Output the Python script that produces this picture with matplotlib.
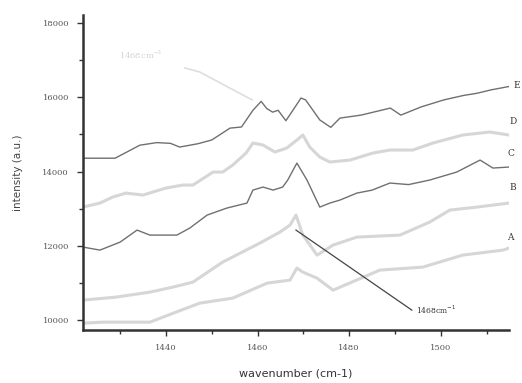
import matplotlib
matplotlib.use("Agg")
import matplotlib.pyplot as plt
from matplotlib.ticker import MultipleLocator

# spectra (wavenumber, intensity)
wn_E = [1421.9, 1428.9, 1432, 1434.3, 1438, 1441, 1443, 1447, 1450, 1454, 1456.5, 1459, 1460.8,
        1462, 1463.3, 1464.5, 1466.2, 1468, 1469.5, 1470.5, 1473.6, 1476, 1478, 1482.6, 1487,
        1489, 1491.3, 1495.7, 1500.7, 1505, 1508, 1511, 1514.9]
int_E = [14360, 14360, 14560, 14710, 14780, 14760, 14660, 14750, 14850, 15170, 15200, 15650, 15890,
         15700, 15600, 15650, 15370, 15700, 15980, 15930, 15390, 15190, 15440, 15520, 15650,
         15710, 15520, 15740, 15930, 16050, 16110, 16200, 16290]

wn_D = [1421.9, 1425.6, 1428.4, 1431.3, 1435.0, 1440.0, 1443.7, 1445.9, 1450.3, 1452.4, 1454.6,
        1457.5, 1459.0, 1461.2, 1463.8, 1466.4, 1468.6, 1469.9, 1471.4, 1473.6, 1475.8, 1480.2,
        1485.2, 1488.9, 1493.9, 1498.3, 1504.8, 1510.7, 1514.9]
int_D = [13044, 13152, 13314, 13421, 13368, 13556, 13637, 13637, 13987, 13987, 14176,
         14499, 14768, 14715, 14526, 14634, 14849, 14984, 14661, 14391, 14257, 14310,
         14499, 14580, 14580, 14768, 14984, 15065, 14984]

wn_C = [1421.9, 1429.1, 1436.5, 1441.5, 1445.9, 1452.4, 1460.5, 1464.9, 1467.1, 1468.4, 1469.9,
        1473.0, 1476.5, 1481.7, 1491.1, 1497.6, 1502.0, 1507.9, 1514.9]
int_C = [10539, 10620, 10754, 10889, 11024, 11563, 12074, 12371, 12559, 12829, 12290,
         11751, 12021, 12236, 12290, 12640, 12963, 13044, 13152]

wn_B = [1421.9, 1425.6, 1430.0, 1433.7, 1436.5, 1442.4, 1445.2, 1449.0, 1453.3, 1457.7, 1459.0,
        1461.2, 1463.4, 1465.5, 1466.6, 1468.6, 1470.8, 1473.6, 1475.8, 1478.0, 1481.7, 1485.0,
        1488.9, 1493.0, 1497.6, 1503.5, 1508.6, 1511.4, 1514.9]
int_B = [11967, 11886, 12101, 12425, 12290, 12290, 12478, 12829, 13017, 13152, 13502,
         13583, 13502, 13583, 13772, 14229, 13772, 13044, 13152, 13233, 13421, 13500,
         13691, 13650, 13772, 13987, 14310, 14095, 14122]

wn_A = [1421.9, 1426.2, 1436.5, 1442.2, 1447.4, 1454.6, 1462.1, 1467.1, 1468.6, 1469.9, 1473.0,
        1476.5, 1486.7, 1496.1, 1504.8, 1513.6, 1514.9]
int_A = [9919, 9946, 9946, 10216, 10458, 10593, 10997, 11078, 11401, 11293, 11131,
         10808, 11347, 11428, 11751, 11886, 11940]

labels = ['E', 'D', 'C', 'B', 'A']
label_pos = [(1516.5, 16330), (1515.8, 15340), (1515.3, 14500), (1515.8, 13560), (1515.2, 12220)]

fig = plt.figure(figsize=(5.22, 3.83), dpi=100)
ax = fig.add_axes([0.159, 0.138, 0.816, 0.823])

light = '#d6d6d6'
dark = '#707070'
ax.plot(wn_A, int_A, color=light, lw=2.2)
ax.plot(wn_C, int_C, color=light, lw=2.2)
ax.plot(wn_D, int_D, color=light, lw=2.2)
ax.plot(wn_B, int_B, color=dark, lw=1.0)
ax.plot(wn_E, int_E, color=dark, lw=1.0)

for lab, (x, y) in zip(labels, label_pos):
    ax.text(x, y, lab, fontsize=6.5, color='#333333', family='DejaVu Serif',
            ha='center', va='center', clip_on=False)

# peak annotation
ax.plot([1468.4, 1493.7], [12425, 10270], color='#444444', lw=0.9)
ax.text(1494.5, 10290, '1468cm$^{-1}$', fontsize=5.5, color='#333333',
        family='DejaVu Serif', va='center', ha='left')

# faded label left over in the scan
ax.plot([1444.1, 1447.4, 1458.8], [16790, 16680, 15930], color='#dedede', lw=1.2)
ax.text(1434.5, 17140, '1468cm$^{-1}$', fontsize=6, color='#d4d4d4',
        family='DejaVu Serif', va='center', ha='center')

ax.set_xlim(1421.9, 1514.9)
ax.set_ylim(9731, 18217)
ax.xaxis.set_major_locator(MultipleLocator(20))
ax.xaxis.set_minor_locator(MultipleLocator(10))
ax.yaxis.set_major_locator(MultipleLocator(2000))
ax.yaxis.set_minor_locator(MultipleLocator(1000))
ax.set_xticks([1440, 1460, 1480, 1500])

for s in ['top', 'right']:
    ax.spines[s].set_visible(False)
for s in ['left', 'bottom']:
    ax.spines[s].set_linewidth(1.8)
    ax.spines[s].set_color('#333333')

ax.tick_params(which='both', direction='out', color='#333333', width=1.0)
ax.tick_params(which='major', length=4, labelsize=6, labelcolor='#555555', pad=6)
ax.tick_params(which='minor', length=3)
for t in ax.get_xticklabels() + ax.get_yticklabels():
    t.set_family('DejaVu Serif')

ax.set_ylabel('intensity (a.u.)', fontsize=7.5, color='#444444', labelpad=14)
ax.set_xlabel('wavenumber (cm-1)', fontsize=8, color='#333333', labelpad=12)

fig.savefig('out.png', dpi=100)
